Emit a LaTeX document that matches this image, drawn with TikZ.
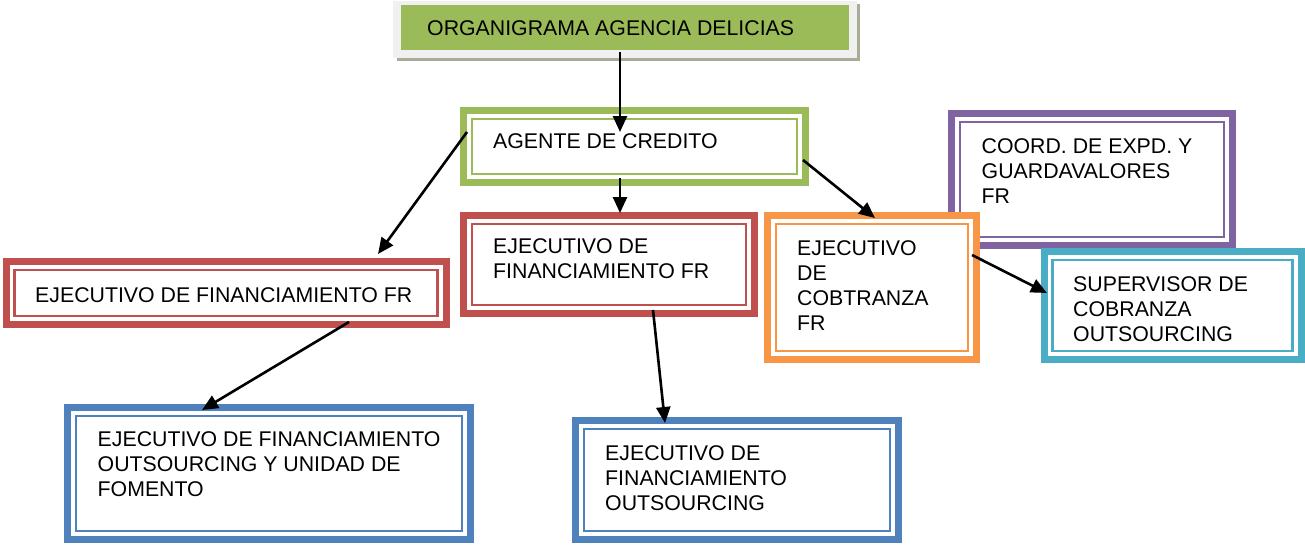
\documentclass[tikz,border=0pt]{standalone}
\usepackage{fontspec}
\setmainfont{Liberation Sans}
\usetikzlibrary{arrows.meta,calc}
\definecolor{cgreen}{HTML}{9BBB59}
\definecolor{cred}{HTML}{C0504D}
\definecolor{corange}{HTML}{F79646}
\definecolor{cpurple}{HTML}{8064A2}
\definecolor{cteal}{HTML}{4BACC6}
\definecolor{cblue}{HTML}{4F81BD}
\definecolor{cshadow}{HTML}{A8AC98}
\definecolor{cframe}{HTML}{F0F0F0}
\begin{document}
\begin{tikzpicture}[x=1pt,y=-1pt,
  obox/.style={draw=#1, line width=7pt, rectangle, inner sep=0pt, fill=white,
    path picture={\draw[#1, line width=2.6pt]
      ($(path picture bounding box.south west)+(8.5pt,8.5pt)$) rectangle
      ($(path picture bounding box.north east)+(-8.5pt,-8.5pt)$);}},
  lbl/.style={anchor=north west, inner sep=0pt, align=left,
    font=\fontsize{21.3}{25}\selectfont},
  arr/.style={-{Triangle[length=16pt,width=14pt]}, line width=2.6pt, black}]
\useasboundingbox (0,0) rectangle (1305,544);
\fill[white] (0,0) rectangle (1305,544);

% title
\fill[cshadow] (397,4) rectangle (860,61);
\fill[cframe] (393,1) rectangle (857,58);
\node[fill=cgreen, rectangle, inner sep=0pt, minimum width=448pt, minimum height=45pt] (title) at (625,27.5) {};
\node[lbl] (ttitle) at (427,20) {ORGANIGRAMA AGENCIA DELICIAS};

% boxes
\node[obox=cgreen, minimum width=342pt, minimum height=72pt] (agente) at (634.5,146.5) {};
\node[lbl] (tagente) at (493,133.5) {AGENTE DE CREDITO};

\node[obox=cpurple, minimum width=281pt, minimum height=132pt] (coord) at (1092,179.5) {};
\node[lbl] (tcoord) at (981.5,138.5) {COORD. DE EXPD. Y\\GUARDAVALORES\\FR};

\node[obox=cred, minimum width=440pt, minimum height=63pt] (redl) at (226,293) {};
\node[lbl] (tredl) at (35,287) {EJECUTIVO DE FINANCIAMIENTO FR};

\node[obox=cred, minimum width=291pt, minimum height=98pt] (redc) at (609,264.5) {};
\node[lbl] (tredc) at (493,238.5) {EJECUTIVO DE\\FINANCIAMIENTO FR};

\node[obox=corange, minimum width=209pt, minimum height=144pt] (cob) at (872,287.5) {};
\node[lbl] (tcob) at (797,240) {EJECUTIVO\\DE\\COBTRANZA\\FR};

\node[obox=cteal, minimum width=257pt, minimum height=108pt] (sup) at (1172.5,305.5) {};
\node[lbl] (tsup) at (1073,276.5) {SUPERVISOR DE\\COBRANZA\\OUTSOURCING};

\node[obox=cblue, minimum width=403pt, minimum height=132pt] (bluel) at (269,473.5) {};
\node[lbl] (tbluel) at (97.5,431.5) {EJECUTIVO DE FINANCIAMIENTO\\OUTSOURCING Y UNIDAD DE\\FOMENTO};

\node[obox=cblue, minimum width=323pt, minimum height=119pt] (bluec) at (737,480) {};
\node[lbl] (tbluec) at (605,445) {EJECUTIVO DE\\FINANCIAMIENTO\\OUTSOURCING};

% connector end points
\coordinate (a1s) at (620,52);   \coordinate (a1e) at (620,132);
\coordinate (a2s) at (620,178);  \coordinate (a2e) at (620,213);
\coordinate (a3s) at (467,132);  \coordinate (a3e) at (378,254);
\coordinate (a4s) at (803,160);  \coordinate (a4e) at (875,218);
\coordinate (a5s) at (349,322);  \coordinate (a5e) at (202,410);
\coordinate (a6s) at (653,310);  \coordinate (a6e) at (665,423);
\coordinate (a7s) at (972,255);  \coordinate (a7e) at (1047,293);

\draw[arr] (a1s) -- (a1e);
\draw[arr] (a2s) -- (a2e);
\draw[arr] (a3s) -- (a3e);
\draw[arr] (a4s) -- (a4e);
\draw[arr] (a5s) -- (a5e);
\draw[arr] (a6s) -- (a6e);
\draw[arr] (a7s) -- (a7e);
\end{tikzpicture}
\end{document}
